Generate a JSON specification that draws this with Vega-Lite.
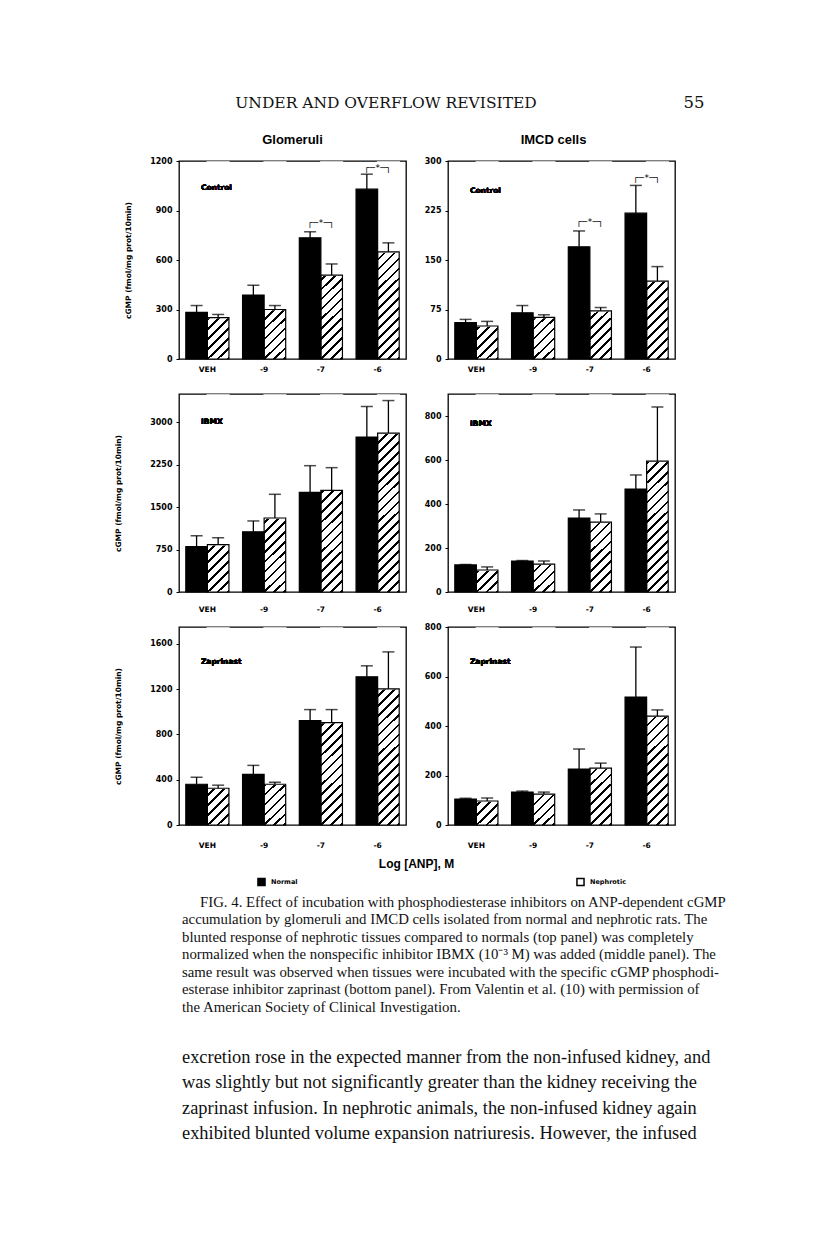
{
  "$schema": "https://vega.github.io/schema/vega-lite/v6.json",
  "autosize": {"type": "pad"},
  "padding": {"left": 114, "top": 80, "right": 5, "bottom": 5},
  "background": "#ffffff",
  "datasets": {
    "glom_control": [
      {"conc": "VEH", "group": "Normal", "mean": 282, "upper": 324},
      {"conc": "VEH", "group": "Nephrotic", "mean": 251, "upper": 270},
      {"conc": "-9", "group": "Normal", "mean": 388, "upper": 447},
      {"conc": "-9", "group": "Nephrotic", "mean": 300, "upper": 324},
      {"conc": "-7", "group": "Normal", "mean": 735, "upper": 771},
      {"conc": "-7", "group": "Nephrotic", "mean": 508, "upper": 576},
      {"conc": "-6", "group": "Normal", "mean": 1029, "upper": 1120},
      {"conc": "-6", "group": "Nephrotic", "mean": 649, "upper": 704}
    ],
    "imcd_control": [
      {"conc": "VEH", "group": "Normal", "mean": 55, "upper": 60},
      {"conc": "VEH", "group": "Nephrotic", "mean": 50, "upper": 57},
      {"conc": "-9", "group": "Normal", "mean": 70, "upper": 81},
      {"conc": "-9", "group": "Nephrotic", "mean": 63, "upper": 67},
      {"conc": "-7", "group": "Normal", "mean": 170, "upper": 194},
      {"conc": "-7", "group": "Nephrotic", "mean": 73, "upper": 78},
      {"conc": "-6", "group": "Normal", "mean": 221, "upper": 263},
      {"conc": "-6", "group": "Nephrotic", "mean": 118, "upper": 140}
    ],
    "glom_ibmx": [
      {"conc": "VEH", "group": "Normal", "mean": 802, "upper": 994},
      {"conc": "VEH", "group": "Nephrotic", "mean": 837, "upper": 959},
      {"conc": "-9", "group": "Normal", "mean": 1064, "upper": 1256},
      {"conc": "-9", "group": "Nephrotic", "mean": 1308, "upper": 1727},
      {"conc": "-7", "group": "Normal", "mean": 1762, "upper": 2233},
      {"conc": "-7", "group": "Nephrotic", "mean": 1797, "upper": 2198},
      {"conc": "-6", "group": "Normal", "mean": 2738, "upper": 3279},
      {"conc": "-6", "group": "Nephrotic", "mean": 2808, "upper": 3384}
    ],
    "imcd_ibmx": [
      {"conc": "VEH", "group": "Normal", "mean": 123, "upper": 125},
      {"conc": "VEH", "group": "Nephrotic", "mean": 100, "upper": 114},
      {"conc": "-9", "group": "Normal", "mean": 141, "upper": 143},
      {"conc": "-9", "group": "Nephrotic", "mean": 127, "upper": 141},
      {"conc": "-7", "group": "Normal", "mean": 336, "upper": 373},
      {"conc": "-7", "group": "Nephrotic", "mean": 318, "upper": 355},
      {"conc": "-6", "group": "Normal", "mean": 468, "upper": 532},
      {"conc": "-6", "group": "Nephrotic", "mean": 595, "upper": 841}
    ],
    "glom_zap": [
      {"conc": "VEH", "group": "Normal", "mean": 360, "upper": 422},
      {"conc": "VEH", "group": "Nephrotic", "mean": 325, "upper": 352},
      {"conc": "-9", "group": "Normal", "mean": 448, "upper": 527},
      {"conc": "-9", "group": "Nephrotic", "mean": 360, "upper": 378},
      {"conc": "-7", "group": "Normal", "mean": 923, "upper": 1020},
      {"conc": "-7", "group": "Nephrotic", "mean": 905, "upper": 1020},
      {"conc": "-6", "group": "Normal", "mean": 1310, "upper": 1407},
      {"conc": "-6", "group": "Nephrotic", "mean": 1204, "upper": 1530}
    ],
    "imcd_zap": [
      {"conc": "VEH", "group": "Normal", "mean": 105, "upper": 108},
      {"conc": "VEH", "group": "Nephrotic", "mean": 97, "upper": 109},
      {"conc": "-9", "group": "Normal", "mean": 133, "upper": 137},
      {"conc": "-9", "group": "Nephrotic", "mean": 125, "upper": 133},
      {"conc": "-7", "group": "Normal", "mean": 226, "upper": 307},
      {"conc": "-7", "group": "Nephrotic", "mean": 230, "upper": 250},
      {"conc": "-6", "group": "Normal", "mean": 517, "upper": 719},
      {"conc": "-6", "group": "Nephrotic", "mean": 440, "upper": 465}
    ],
    "caption": [
      {"line": 1, "text": "FIG. 4. Effect of incubation with phosphodiesterase inhibitors on ANP-dependent cGMP"},
      {"line": 2, "text": "accumulation by glomeruli and IMCD cells isolated from normal and nephrotic rats. The"},
      {"line": 3, "text": "blunted response of nephrotic tissues compared to normals (top panel) was completely"},
      {"line": 4, "text": "normalized when the nonspecific inhibitor IBMX (10\u207b\u00b3 M) was added (middle panel). The"},
      {"line": 5, "text": "same result was observed when tissues were incubated with the specific cGMP phosphodi-"},
      {"line": 6, "text": "esterase inhibitor zaprinast (bottom panel). From Valentin et al. (10) with permission of"},
      {"line": 7, "text": "the American Society of Clinical Investigation."}
    ],
    "body": [
      {"line": 1, "text": "excretion rose in the expected manner from the non-infused kidney, and"},
      {"line": 2, "text": "was slightly but not significantly greater than the kidney receiving the"},
      {"line": 3, "text": "zaprinast infusion. In nephrotic animals, the non-infused kidney again"},
      {"line": 4, "text": "exhibited blunted volume expansion natriuresis. However, the infused"}
    ]
  },
  "columns": 2,
  "spacing": {"row": 35, "column": 42},
  "bounds": "flush",
  "concat": [
    {
      "width": 227, "height": 46,
      "view": {"stroke": null},
      "data": {"values": [{"text": "UNDER AND OVERFLOW REVISITED"}]},
      "mark": {"type": "text", "font": "DejaVu Serif", "fontSize": 15.5, "baseline": "middle", "align": "center", "dx": 93.5, "color": "#111"},
      "encoding": {"text": {"field": "text"}}
    },
    {
      "width": 227, "height": 46,
      "view": {"stroke": null},
      "data": {"values": [{"text": "55"}]},
      "mark": {"type": "text", "font": "DejaVu Serif", "fontSize": 16.5, "baseline": "middle", "align": "center", "dx": 132.5, "color": "#111"},
      "encoding": {"text": {"field": "text"}}
    },
    {
      "width": 227, "height": 198,
      "title": {"text": "Glomeruli", "offset": 10},
      "data": {"name": "glom_control"},
      "encoding": {"x": {"field": "conc", "type": "nominal", "scale": {"domain": ["VEH", "-9", "-7", "-6"], "paddingInner": 0.24, "paddingOuter": 0.12}, "axis": {"title": null, "labelPadding": 6}}},
      "layer": [
        {"transform": [{"filter": "datum.group === 'Nephrotic'"}],
         "mark": {"type": "bar", "stroke": null, "fill": {"gradient": "linear", "x1": 0, "y1": 0, "x2": 0.119, "y2": 1.096, "stops": [{"offset": 0, "color": "#fff"}, {"offset": 0.0327, "color": "#fff"}, {"offset": 0.0327, "color": "#000"}, {"offset": 0.0455, "color": "#000"}, {"offset": 0.0455, "color": "#fff"}, {"offset": 0.0782, "color": "#fff"}, {"offset": 0.0782, "color": "#000"}, {"offset": 0.0909, "color": "#000"}, {"offset": 0.0909, "color": "#fff"}, {"offset": 0.1236, "color": "#fff"}, {"offset": 0.1236, "color": "#000"}, {"offset": 0.1364, "color": "#000"}, {"offset": 0.1364, "color": "#fff"}, {"offset": 0.1691, "color": "#fff"}, {"offset": 0.1691, "color": "#000"}, {"offset": 0.1818, "color": "#000"}, {"offset": 0.1818, "color": "#fff"}, {"offset": 0.2145, "color": "#fff"}, {"offset": 0.2145, "color": "#000"}, {"offset": 0.2273, "color": "#000"}, {"offset": 0.2273, "color": "#fff"}, {"offset": 0.26, "color": "#fff"}, {"offset": 0.26, "color": "#000"}, {"offset": 0.2727, "color": "#000"}, {"offset": 0.2727, "color": "#fff"}, {"offset": 0.3055, "color": "#fff"}, {"offset": 0.3055, "color": "#000"}, {"offset": 0.3182, "color": "#000"}, {"offset": 0.3182, "color": "#fff"}, {"offset": 0.3509, "color": "#fff"}, {"offset": 0.3509, "color": "#000"}, {"offset": 0.3636, "color": "#000"}, {"offset": 0.3636, "color": "#fff"}, {"offset": 0.3964, "color": "#fff"}, {"offset": 0.3964, "color": "#000"}, {"offset": 0.4091, "color": "#000"}, {"offset": 0.4091, "color": "#fff"}, {"offset": 0.4418, "color": "#fff"}, {"offset": 0.4418, "color": "#000"}, {"offset": 0.4545, "color": "#000"}, {"offset": 0.4545, "color": "#fff"}, {"offset": 0.4873, "color": "#fff"}, {"offset": 0.4873, "color": "#000"}, {"offset": 0.5, "color": "#000"}, {"offset": 0.5, "color": "#fff"}, {"offset": 0.5327, "color": "#fff"}, {"offset": 0.5327, "color": "#000"}, {"offset": 0.5455, "color": "#000"}, {"offset": 0.5455, "color": "#fff"}, {"offset": 0.5782, "color": "#fff"}, {"offset": 0.5782, "color": "#000"}, {"offset": 0.5909, "color": "#000"}, {"offset": 0.5909, "color": "#fff"}, {"offset": 0.6236, "color": "#fff"}, {"offset": 0.6236, "color": "#000"}, {"offset": 0.6364, "color": "#000"}, {"offset": 0.6364, "color": "#fff"}, {"offset": 0.6691, "color": "#fff"}, {"offset": 0.6691, "color": "#000"}, {"offset": 0.6818, "color": "#000"}, {"offset": 0.6818, "color": "#fff"}, {"offset": 0.7145, "color": "#fff"}, {"offset": 0.7145, "color": "#000"}, {"offset": 0.7273, "color": "#000"}, {"offset": 0.7273, "color": "#fff"}, {"offset": 0.76, "color": "#fff"}, {"offset": 0.76, "color": "#000"}, {"offset": 0.7727, "color": "#000"}, {"offset": 0.7727, "color": "#fff"}, {"offset": 0.8055, "color": "#fff"}, {"offset": 0.8055, "color": "#000"}, {"offset": 0.8182, "color": "#000"}, {"offset": 0.8182, "color": "#fff"}, {"offset": 0.8509, "color": "#fff"}, {"offset": 0.8509, "color": "#000"}, {"offset": 0.8636, "color": "#000"}, {"offset": 0.8636, "color": "#fff"}, {"offset": 0.8964, "color": "#fff"}, {"offset": 0.8964, "color": "#000"}, {"offset": 0.9091, "color": "#000"}, {"offset": 0.9091, "color": "#fff"}, {"offset": 0.9418, "color": "#fff"}, {"offset": 0.9418, "color": "#000"}, {"offset": 0.9545, "color": "#000"}, {"offset": 0.9545, "color": "#fff"}, {"offset": 0.9873, "color": "#fff"}, {"offset": 0.9873, "color": "#000"}, {"offset": 1, "color": "#000"}]}},
         "encoding": {"xOffset": {"field": "group", "type": "nominal", "scale": {"domain": ["Normal", "Nephrotic"], "paddingInner": 0, "paddingOuter": 0}}, "y": {"datum": 0, "type": "quantitative", "scale": {"domain": [0, 1200], "nice": false}, "axis": {"values": [0, 300, 600, 900, 1200], "title": "cGMP (fmol/mg prot/10min)", "titlePadding": 17}}, "y2": {"datum": 1194}}},
        {"transform": [{"filter": "datum.group === 'Nephrotic'"}], "mark": {"type": "bar", "fill": "#ffffff", "stroke": "#ffffff", "strokeWidth": 1.5},
         "encoding": {"xOffset": {"field": "group", "type": "nominal"}, "y": {"field": "mean", "type": "quantitative"}, "y2": {"datum": 1194}}},
        {"mark": {"type": "bar", "stroke": "#000", "strokeWidth": 1.2},
         "encoding": {"xOffset": {"field": "group", "type": "nominal"}, "y": {"field": "mean", "type": "quantitative"},
          "fill": {"field": "group", "type": "nominal", "title": null, "scale": {"domain": ["Normal", "Nephrotic"], "range": ["#000000", "transparent"]},
            "legend": {"orient": "none", "legendX": 78, "legendY": 797, "direction": "horizontal", "columnPadding": 275, "symbolType": "square", "symbolSize": 50, "symbolStrokeColor": "#000", "symbolStrokeWidth": 1.5, "labelFont": "DejaVu Sans", "labelFontWeight": "bold", "labelFontSize": 6.5, "labelColor": "#000", "labelOffset": 5}}}},
        {"mark": {"type": "rule", "color": "#000", "strokeWidth": 1.3},
         "encoding": {"xOffset": {"field": "group", "type": "nominal"}, "y": {"field": "mean", "type": "quantitative"}, "y2": {"field": "upper"}}},
        {"mark": {"type": "tick", "color": "#000", "size": 12, "thickness": 1.5, "orient": "horizontal"},
         "encoding": {"xOffset": {"field": "group", "type": "nominal"}, "y": {"field": "upper", "type": "quantitative"}}},
        {"mark": {"type": "text", "text": "Control", "align": "left", "baseline": "middle", "font": "DejaVu Sans", "fontWeight": "bold", "fontSize": 7.5, "color": "#000"},
         "encoding": {"x": {"datum": "VEH", "bandPosition": 0.35}, "y": {"datum": 1036, "type": "quantitative"}}},
        {"data": {"values": [{"conc": "-7", "level": 826}, {"conc": "-6", "level": 1157}]},
         "mark": {"type": "text", "text": "┌─*─┐", "font": "DejaVu Sans Mono", "fontSize": 9, "baseline": "middle", "align": "center", "color": "#000"},
         "encoding": {"y": {"field": "level", "type": "quantitative"}}}
      ]
    },
    {
      "width": 227, "height": 198,
      "title": {"text": "IMCD cells", "offset": 10, "dx": -8},
      "data": {"name": "imcd_control"},
      "encoding": {"x": {"field": "conc", "type": "nominal", "scale": {"domain": ["VEH", "-9", "-7", "-6"], "paddingInner": 0.24, "paddingOuter": 0.12}, "axis": {"title": null, "labelPadding": 6}}},
      "layer": [
        {"transform": [{"filter": "datum.group === 'Nephrotic'"}],
         "mark": {"type": "bar", "stroke": null, "fill": {"gradient": "linear", "x1": 0, "y1": 0, "x2": 0.119, "y2": 1.096, "stops": [{"offset": 0, "color": "#fff"}, {"offset": 0.0327, "color": "#fff"}, {"offset": 0.0327, "color": "#000"}, {"offset": 0.0455, "color": "#000"}, {"offset": 0.0455, "color": "#fff"}, {"offset": 0.0782, "color": "#fff"}, {"offset": 0.0782, "color": "#000"}, {"offset": 0.0909, "color": "#000"}, {"offset": 0.0909, "color": "#fff"}, {"offset": 0.1236, "color": "#fff"}, {"offset": 0.1236, "color": "#000"}, {"offset": 0.1364, "color": "#000"}, {"offset": 0.1364, "color": "#fff"}, {"offset": 0.1691, "color": "#fff"}, {"offset": 0.1691, "color": "#000"}, {"offset": 0.1818, "color": "#000"}, {"offset": 0.1818, "color": "#fff"}, {"offset": 0.2145, "color": "#fff"}, {"offset": 0.2145, "color": "#000"}, {"offset": 0.2273, "color": "#000"}, {"offset": 0.2273, "color": "#fff"}, {"offset": 0.26, "color": "#fff"}, {"offset": 0.26, "color": "#000"}, {"offset": 0.2727, "color": "#000"}, {"offset": 0.2727, "color": "#fff"}, {"offset": 0.3055, "color": "#fff"}, {"offset": 0.3055, "color": "#000"}, {"offset": 0.3182, "color": "#000"}, {"offset": 0.3182, "color": "#fff"}, {"offset": 0.3509, "color": "#fff"}, {"offset": 0.3509, "color": "#000"}, {"offset": 0.3636, "color": "#000"}, {"offset": 0.3636, "color": "#fff"}, {"offset": 0.3964, "color": "#fff"}, {"offset": 0.3964, "color": "#000"}, {"offset": 0.4091, "color": "#000"}, {"offset": 0.4091, "color": "#fff"}, {"offset": 0.4418, "color": "#fff"}, {"offset": 0.4418, "color": "#000"}, {"offset": 0.4545, "color": "#000"}, {"offset": 0.4545, "color": "#fff"}, {"offset": 0.4873, "color": "#fff"}, {"offset": 0.4873, "color": "#000"}, {"offset": 0.5, "color": "#000"}, {"offset": 0.5, "color": "#fff"}, {"offset": 0.5327, "color": "#fff"}, {"offset": 0.5327, "color": "#000"}, {"offset": 0.5455, "color": "#000"}, {"offset": 0.5455, "color": "#fff"}, {"offset": 0.5782, "color": "#fff"}, {"offset": 0.5782, "color": "#000"}, {"offset": 0.5909, "color": "#000"}, {"offset": 0.5909, "color": "#fff"}, {"offset": 0.6236, "color": "#fff"}, {"offset": 0.6236, "color": "#000"}, {"offset": 0.6364, "color": "#000"}, {"offset": 0.6364, "color": "#fff"}, {"offset": 0.6691, "color": "#fff"}, {"offset": 0.6691, "color": "#000"}, {"offset": 0.6818, "color": "#000"}, {"offset": 0.6818, "color": "#fff"}, {"offset": 0.7145, "color": "#fff"}, {"offset": 0.7145, "color": "#000"}, {"offset": 0.7273, "color": "#000"}, {"offset": 0.7273, "color": "#fff"}, {"offset": 0.76, "color": "#fff"}, {"offset": 0.76, "color": "#000"}, {"offset": 0.7727, "color": "#000"}, {"offset": 0.7727, "color": "#fff"}, {"offset": 0.8055, "color": "#fff"}, {"offset": 0.8055, "color": "#000"}, {"offset": 0.8182, "color": "#000"}, {"offset": 0.8182, "color": "#fff"}, {"offset": 0.8509, "color": "#fff"}, {"offset": 0.8509, "color": "#000"}, {"offset": 0.8636, "color": "#000"}, {"offset": 0.8636, "color": "#fff"}, {"offset": 0.8964, "color": "#fff"}, {"offset": 0.8964, "color": "#000"}, {"offset": 0.9091, "color": "#000"}, {"offset": 0.9091, "color": "#fff"}, {"offset": 0.9418, "color": "#fff"}, {"offset": 0.9418, "color": "#000"}, {"offset": 0.9545, "color": "#000"}, {"offset": 0.9545, "color": "#fff"}, {"offset": 0.9873, "color": "#fff"}, {"offset": 0.9873, "color": "#000"}, {"offset": 1, "color": "#000"}]}},
         "encoding": {"xOffset": {"field": "group", "type": "nominal", "scale": {"domain": ["Normal", "Nephrotic"], "paddingInner": 0, "paddingOuter": 0}}, "y": {"datum": 0, "type": "quantitative", "scale": {"domain": [0, 300], "nice": false}, "axis": {"values": [0, 75, 150, 225, 300], "title": null}}, "y2": {"datum": 298.5}}},
        {"transform": [{"filter": "datum.group === 'Nephrotic'"}], "mark": {"type": "bar", "fill": "#ffffff", "stroke": "#ffffff", "strokeWidth": 1.5},
         "encoding": {"xOffset": {"field": "group", "type": "nominal"}, "y": {"field": "mean", "type": "quantitative"}, "y2": {"datum": 298.5}}},
        {"mark": {"type": "bar", "stroke": "#000", "strokeWidth": 1.2},
         "encoding": {"xOffset": {"field": "group", "type": "nominal"}, "y": {"field": "mean", "type": "quantitative"},
          "fill": {"field": "group", "type": "nominal", "title": null, "scale": {"domain": ["Normal", "Nephrotic"], "range": ["#000000", "transparent"]}, "legend": null}}},
        {"mark": {"type": "rule", "color": "#000", "strokeWidth": 1.3},
         "encoding": {"xOffset": {"field": "group", "type": "nominal"}, "y": {"field": "mean", "type": "quantitative"}, "y2": {"field": "upper"}}},
        {"mark": {"type": "tick", "color": "#000", "size": 12, "thickness": 1.5, "orient": "horizontal"},
         "encoding": {"xOffset": {"field": "group", "type": "nominal"}, "y": {"field": "upper", "type": "quantitative"}}},
        {"mark": {"type": "text", "text": "Control", "align": "left", "baseline": "middle", "font": "DejaVu Sans", "fontWeight": "bold", "fontSize": 7.5, "color": "#000"},
         "encoding": {"x": {"datum": "VEH", "bandPosition": 0.35}, "y": {"datum": 254.5, "type": "quantitative"}}},
        {"data": {"values": [{"conc": "-7", "level": 208}, {"conc": "-6", "level": 274}]},
         "mark": {"type": "text", "text": "┌─*─┐", "font": "DejaVu Sans Mono", "fontSize": 9, "baseline": "middle", "align": "center", "color": "#000"},
         "encoding": {"y": {"field": "level", "type": "quantitative"}}}
      ]
    },
    {
      "width": 227, "height": 198,
      "data": {"name": "glom_ibmx"},
      "encoding": {"x": {"field": "conc", "type": "nominal", "scale": {"domain": ["VEH", "-9", "-7", "-6"], "paddingInner": 0.24, "paddingOuter": 0.12}, "axis": {"title": null, "labelPadding": 13}}},
      "layer": [
        {"transform": [{"filter": "datum.group === 'Nephrotic'"}],
         "mark": {"type": "bar", "stroke": null, "fill": {"gradient": "linear", "x1": 0, "y1": 0, "x2": 0.119, "y2": 1.096, "stops": [{"offset": 0, "color": "#fff"}, {"offset": 0.0327, "color": "#fff"}, {"offset": 0.0327, "color": "#000"}, {"offset": 0.0455, "color": "#000"}, {"offset": 0.0455, "color": "#fff"}, {"offset": 0.0782, "color": "#fff"}, {"offset": 0.0782, "color": "#000"}, {"offset": 0.0909, "color": "#000"}, {"offset": 0.0909, "color": "#fff"}, {"offset": 0.1236, "color": "#fff"}, {"offset": 0.1236, "color": "#000"}, {"offset": 0.1364, "color": "#000"}, {"offset": 0.1364, "color": "#fff"}, {"offset": 0.1691, "color": "#fff"}, {"offset": 0.1691, "color": "#000"}, {"offset": 0.1818, "color": "#000"}, {"offset": 0.1818, "color": "#fff"}, {"offset": 0.2145, "color": "#fff"}, {"offset": 0.2145, "color": "#000"}, {"offset": 0.2273, "color": "#000"}, {"offset": 0.2273, "color": "#fff"}, {"offset": 0.26, "color": "#fff"}, {"offset": 0.26, "color": "#000"}, {"offset": 0.2727, "color": "#000"}, {"offset": 0.2727, "color": "#fff"}, {"offset": 0.3055, "color": "#fff"}, {"offset": 0.3055, "color": "#000"}, {"offset": 0.3182, "color": "#000"}, {"offset": 0.3182, "color": "#fff"}, {"offset": 0.3509, "color": "#fff"}, {"offset": 0.3509, "color": "#000"}, {"offset": 0.3636, "color": "#000"}, {"offset": 0.3636, "color": "#fff"}, {"offset": 0.3964, "color": "#fff"}, {"offset": 0.3964, "color": "#000"}, {"offset": 0.4091, "color": "#000"}, {"offset": 0.4091, "color": "#fff"}, {"offset": 0.4418, "color": "#fff"}, {"offset": 0.4418, "color": "#000"}, {"offset": 0.4545, "color": "#000"}, {"offset": 0.4545, "color": "#fff"}, {"offset": 0.4873, "color": "#fff"}, {"offset": 0.4873, "color": "#000"}, {"offset": 0.5, "color": "#000"}, {"offset": 0.5, "color": "#fff"}, {"offset": 0.5327, "color": "#fff"}, {"offset": 0.5327, "color": "#000"}, {"offset": 0.5455, "color": "#000"}, {"offset": 0.5455, "color": "#fff"}, {"offset": 0.5782, "color": "#fff"}, {"offset": 0.5782, "color": "#000"}, {"offset": 0.5909, "color": "#000"}, {"offset": 0.5909, "color": "#fff"}, {"offset": 0.6236, "color": "#fff"}, {"offset": 0.6236, "color": "#000"}, {"offset": 0.6364, "color": "#000"}, {"offset": 0.6364, "color": "#fff"}, {"offset": 0.6691, "color": "#fff"}, {"offset": 0.6691, "color": "#000"}, {"offset": 0.6818, "color": "#000"}, {"offset": 0.6818, "color": "#fff"}, {"offset": 0.7145, "color": "#fff"}, {"offset": 0.7145, "color": "#000"}, {"offset": 0.7273, "color": "#000"}, {"offset": 0.7273, "color": "#fff"}, {"offset": 0.76, "color": "#fff"}, {"offset": 0.76, "color": "#000"}, {"offset": 0.7727, "color": "#000"}, {"offset": 0.7727, "color": "#fff"}, {"offset": 0.8055, "color": "#fff"}, {"offset": 0.8055, "color": "#000"}, {"offset": 0.8182, "color": "#000"}, {"offset": 0.8182, "color": "#fff"}, {"offset": 0.8509, "color": "#fff"}, {"offset": 0.8509, "color": "#000"}, {"offset": 0.8636, "color": "#000"}, {"offset": 0.8636, "color": "#fff"}, {"offset": 0.8964, "color": "#fff"}, {"offset": 0.8964, "color": "#000"}, {"offset": 0.9091, "color": "#000"}, {"offset": 0.9091, "color": "#fff"}, {"offset": 0.9418, "color": "#fff"}, {"offset": 0.9418, "color": "#000"}, {"offset": 0.9545, "color": "#000"}, {"offset": 0.9545, "color": "#fff"}, {"offset": 0.9873, "color": "#fff"}, {"offset": 0.9873, "color": "#000"}, {"offset": 1, "color": "#000"}]}},
         "encoding": {"xOffset": {"field": "group", "type": "nominal", "scale": {"domain": ["Normal", "Nephrotic"], "paddingInner": 0, "paddingOuter": 0}}, "y": {"datum": 0, "type": "quantitative", "scale": {"domain": [0, 3500], "nice": false}, "axis": {"values": [0, 750, 1500, 2250, 3000], "title": "cGMP (fmol/mg prot/10min)", "titlePadding": 27}}, "y2": {"datum": 3482}}},
        {"transform": [{"filter": "datum.group === 'Nephrotic'"}], "mark": {"type": "bar", "fill": "#ffffff", "stroke": "#ffffff", "strokeWidth": 1.5},
         "encoding": {"xOffset": {"field": "group", "type": "nominal"}, "y": {"field": "mean", "type": "quantitative"}, "y2": {"datum": 3482}}},
        {"mark": {"type": "bar", "stroke": "#000", "strokeWidth": 1.2},
         "encoding": {"xOffset": {"field": "group", "type": "nominal"}, "y": {"field": "mean", "type": "quantitative"},
          "fill": {"field": "group", "type": "nominal", "title": null, "scale": {"domain": ["Normal", "Nephrotic"], "range": ["#000000", "transparent"]}, "legend": null}}},
        {"mark": {"type": "rule", "color": "#000", "strokeWidth": 1.3},
         "encoding": {"xOffset": {"field": "group", "type": "nominal"}, "y": {"field": "mean", "type": "quantitative"}, "y2": {"field": "upper"}}},
        {"mark": {"type": "tick", "color": "#000", "size": 12, "thickness": 1.5, "orient": "horizontal"},
         "encoding": {"xOffset": {"field": "group", "type": "nominal"}, "y": {"field": "upper", "type": "quantitative"}}},
        {"mark": {"type": "text", "text": "IBMX", "align": "left", "baseline": "middle", "font": "DejaVu Sans", "fontWeight": "bold", "fontSize": 7.5, "color": "#000"},
         "encoding": {"x": {"datum": "VEH", "bandPosition": 0.35}, "y": {"datum": 3005, "type": "quantitative"}}}
      ]
    },
    {
      "width": 227, "height": 198,
      "data": {"name": "imcd_ibmx"},
      "encoding": {"x": {"field": "conc", "type": "nominal", "scale": {"domain": ["VEH", "-9", "-7", "-6"], "paddingInner": 0.24, "paddingOuter": 0.12}, "axis": {"title": null, "labelPadding": 13}}},
      "layer": [
        {"transform": [{"filter": "datum.group === 'Nephrotic'"}],
         "mark": {"type": "bar", "stroke": null, "fill": {"gradient": "linear", "x1": 0, "y1": 0, "x2": 0.119, "y2": 1.096, "stops": [{"offset": 0, "color": "#fff"}, {"offset": 0.0327, "color": "#fff"}, {"offset": 0.0327, "color": "#000"}, {"offset": 0.0455, "color": "#000"}, {"offset": 0.0455, "color": "#fff"}, {"offset": 0.0782, "color": "#fff"}, {"offset": 0.0782, "color": "#000"}, {"offset": 0.0909, "color": "#000"}, {"offset": 0.0909, "color": "#fff"}, {"offset": 0.1236, "color": "#fff"}, {"offset": 0.1236, "color": "#000"}, {"offset": 0.1364, "color": "#000"}, {"offset": 0.1364, "color": "#fff"}, {"offset": 0.1691, "color": "#fff"}, {"offset": 0.1691, "color": "#000"}, {"offset": 0.1818, "color": "#000"}, {"offset": 0.1818, "color": "#fff"}, {"offset": 0.2145, "color": "#fff"}, {"offset": 0.2145, "color": "#000"}, {"offset": 0.2273, "color": "#000"}, {"offset": 0.2273, "color": "#fff"}, {"offset": 0.26, "color": "#fff"}, {"offset": 0.26, "color": "#000"}, {"offset": 0.2727, "color": "#000"}, {"offset": 0.2727, "color": "#fff"}, {"offset": 0.3055, "color": "#fff"}, {"offset": 0.3055, "color": "#000"}, {"offset": 0.3182, "color": "#000"}, {"offset": 0.3182, "color": "#fff"}, {"offset": 0.3509, "color": "#fff"}, {"offset": 0.3509, "color": "#000"}, {"offset": 0.3636, "color": "#000"}, {"offset": 0.3636, "color": "#fff"}, {"offset": 0.3964, "color": "#fff"}, {"offset": 0.3964, "color": "#000"}, {"offset": 0.4091, "color": "#000"}, {"offset": 0.4091, "color": "#fff"}, {"offset": 0.4418, "color": "#fff"}, {"offset": 0.4418, "color": "#000"}, {"offset": 0.4545, "color": "#000"}, {"offset": 0.4545, "color": "#fff"}, {"offset": 0.4873, "color": "#fff"}, {"offset": 0.4873, "color": "#000"}, {"offset": 0.5, "color": "#000"}, {"offset": 0.5, "color": "#fff"}, {"offset": 0.5327, "color": "#fff"}, {"offset": 0.5327, "color": "#000"}, {"offset": 0.5455, "color": "#000"}, {"offset": 0.5455, "color": "#fff"}, {"offset": 0.5782, "color": "#fff"}, {"offset": 0.5782, "color": "#000"}, {"offset": 0.5909, "color": "#000"}, {"offset": 0.5909, "color": "#fff"}, {"offset": 0.6236, "color": "#fff"}, {"offset": 0.6236, "color": "#000"}, {"offset": 0.6364, "color": "#000"}, {"offset": 0.6364, "color": "#fff"}, {"offset": 0.6691, "color": "#fff"}, {"offset": 0.6691, "color": "#000"}, {"offset": 0.6818, "color": "#000"}, {"offset": 0.6818, "color": "#fff"}, {"offset": 0.7145, "color": "#fff"}, {"offset": 0.7145, "color": "#000"}, {"offset": 0.7273, "color": "#000"}, {"offset": 0.7273, "color": "#fff"}, {"offset": 0.76, "color": "#fff"}, {"offset": 0.76, "color": "#000"}, {"offset": 0.7727, "color": "#000"}, {"offset": 0.7727, "color": "#fff"}, {"offset": 0.8055, "color": "#fff"}, {"offset": 0.8055, "color": "#000"}, {"offset": 0.8182, "color": "#000"}, {"offset": 0.8182, "color": "#fff"}, {"offset": 0.8509, "color": "#fff"}, {"offset": 0.8509, "color": "#000"}, {"offset": 0.8636, "color": "#000"}, {"offset": 0.8636, "color": "#fff"}, {"offset": 0.8964, "color": "#fff"}, {"offset": 0.8964, "color": "#000"}, {"offset": 0.9091, "color": "#000"}, {"offset": 0.9091, "color": "#fff"}, {"offset": 0.9418, "color": "#fff"}, {"offset": 0.9418, "color": "#000"}, {"offset": 0.9545, "color": "#000"}, {"offset": 0.9545, "color": "#fff"}, {"offset": 0.9873, "color": "#fff"}, {"offset": 0.9873, "color": "#000"}, {"offset": 1, "color": "#000"}]}},
         "encoding": {"xOffset": {"field": "group", "type": "nominal", "scale": {"domain": ["Normal", "Nephrotic"], "paddingInner": 0, "paddingOuter": 0}}, "y": {"datum": 0, "type": "quantitative", "scale": {"domain": [0, 900], "nice": false}, "axis": {"values": [0, 200, 400, 600, 800], "title": null}}, "y2": {"datum": 895.5}}},
        {"transform": [{"filter": "datum.group === 'Nephrotic'"}], "mark": {"type": "bar", "fill": "#ffffff", "stroke": "#ffffff", "strokeWidth": 1.5},
         "encoding": {"xOffset": {"field": "group", "type": "nominal"}, "y": {"field": "mean", "type": "quantitative"}, "y2": {"datum": 895.5}}},
        {"mark": {"type": "bar", "stroke": "#000", "strokeWidth": 1.2},
         "encoding": {"xOffset": {"field": "group", "type": "nominal"}, "y": {"field": "mean", "type": "quantitative"},
          "fill": {"field": "group", "type": "nominal", "title": null, "scale": {"domain": ["Normal", "Nephrotic"], "range": ["#000000", "transparent"]}, "legend": null}}},
        {"mark": {"type": "rule", "color": "#000", "strokeWidth": 1.3},
         "encoding": {"xOffset": {"field": "group", "type": "nominal"}, "y": {"field": "mean", "type": "quantitative"}, "y2": {"field": "upper"}}},
        {"mark": {"type": "tick", "color": "#000", "size": 12, "thickness": 1.5, "orient": "horizontal"},
         "encoding": {"xOffset": {"field": "group", "type": "nominal"}, "y": {"field": "upper", "type": "quantitative"}}},
        {"mark": {"type": "text", "text": "IBMX", "align": "left", "baseline": "middle", "font": "DejaVu Sans", "fontWeight": "bold", "fontSize": 7.5, "color": "#000"},
         "encoding": {"x": {"datum": "VEH", "bandPosition": 0.35}, "y": {"datum": 764, "type": "quantitative"}}}
      ]
    },
    {
      "width": 227, "height": 198,
      "data": {"name": "glom_zap"},
      "encoding": {"x": {"field": "conc", "type": "nominal", "scale": {"domain": ["VEH", "-9", "-7", "-6"], "paddingInner": 0.24, "paddingOuter": 0.12}, "axis": {"title": "Log [ANP], M", "labelPadding": 16, "titleX": 237, "titleY": 38, "titleAlign": "center", "titleBaseline": "middle", "titleFont": "Liberation Sans", "titleFontWeight": "bold", "titleFontSize": 12}}},
      "layer": [
        {"transform": [{"filter": "datum.group === 'Nephrotic'"}],
         "mark": {"type": "bar", "stroke": null, "fill": {"gradient": "linear", "x1": 0, "y1": 0, "x2": 0.119, "y2": 1.096, "stops": [{"offset": 0, "color": "#fff"}, {"offset": 0.0327, "color": "#fff"}, {"offset": 0.0327, "color": "#000"}, {"offset": 0.0455, "color": "#000"}, {"offset": 0.0455, "color": "#fff"}, {"offset": 0.0782, "color": "#fff"}, {"offset": 0.0782, "color": "#000"}, {"offset": 0.0909, "color": "#000"}, {"offset": 0.0909, "color": "#fff"}, {"offset": 0.1236, "color": "#fff"}, {"offset": 0.1236, "color": "#000"}, {"offset": 0.1364, "color": "#000"}, {"offset": 0.1364, "color": "#fff"}, {"offset": 0.1691, "color": "#fff"}, {"offset": 0.1691, "color": "#000"}, {"offset": 0.1818, "color": "#000"}, {"offset": 0.1818, "color": "#fff"}, {"offset": 0.2145, "color": "#fff"}, {"offset": 0.2145, "color": "#000"}, {"offset": 0.2273, "color": "#000"}, {"offset": 0.2273, "color": "#fff"}, {"offset": 0.26, "color": "#fff"}, {"offset": 0.26, "color": "#000"}, {"offset": 0.2727, "color": "#000"}, {"offset": 0.2727, "color": "#fff"}, {"offset": 0.3055, "color": "#fff"}, {"offset": 0.3055, "color": "#000"}, {"offset": 0.3182, "color": "#000"}, {"offset": 0.3182, "color": "#fff"}, {"offset": 0.3509, "color": "#fff"}, {"offset": 0.3509, "color": "#000"}, {"offset": 0.3636, "color": "#000"}, {"offset": 0.3636, "color": "#fff"}, {"offset": 0.3964, "color": "#fff"}, {"offset": 0.3964, "color": "#000"}, {"offset": 0.4091, "color": "#000"}, {"offset": 0.4091, "color": "#fff"}, {"offset": 0.4418, "color": "#fff"}, {"offset": 0.4418, "color": "#000"}, {"offset": 0.4545, "color": "#000"}, {"offset": 0.4545, "color": "#fff"}, {"offset": 0.4873, "color": "#fff"}, {"offset": 0.4873, "color": "#000"}, {"offset": 0.5, "color": "#000"}, {"offset": 0.5, "color": "#fff"}, {"offset": 0.5327, "color": "#fff"}, {"offset": 0.5327, "color": "#000"}, {"offset": 0.5455, "color": "#000"}, {"offset": 0.5455, "color": "#fff"}, {"offset": 0.5782, "color": "#fff"}, {"offset": 0.5782, "color": "#000"}, {"offset": 0.5909, "color": "#000"}, {"offset": 0.5909, "color": "#fff"}, {"offset": 0.6236, "color": "#fff"}, {"offset": 0.6236, "color": "#000"}, {"offset": 0.6364, "color": "#000"}, {"offset": 0.6364, "color": "#fff"}, {"offset": 0.6691, "color": "#fff"}, {"offset": 0.6691, "color": "#000"}, {"offset": 0.6818, "color": "#000"}, {"offset": 0.6818, "color": "#fff"}, {"offset": 0.7145, "color": "#fff"}, {"offset": 0.7145, "color": "#000"}, {"offset": 0.7273, "color": "#000"}, {"offset": 0.7273, "color": "#fff"}, {"offset": 0.76, "color": "#fff"}, {"offset": 0.76, "color": "#000"}, {"offset": 0.7727, "color": "#000"}, {"offset": 0.7727, "color": "#fff"}, {"offset": 0.8055, "color": "#fff"}, {"offset": 0.8055, "color": "#000"}, {"offset": 0.8182, "color": "#000"}, {"offset": 0.8182, "color": "#fff"}, {"offset": 0.8509, "color": "#fff"}, {"offset": 0.8509, "color": "#000"}, {"offset": 0.8636, "color": "#000"}, {"offset": 0.8636, "color": "#fff"}, {"offset": 0.8964, "color": "#fff"}, {"offset": 0.8964, "color": "#000"}, {"offset": 0.9091, "color": "#000"}, {"offset": 0.9091, "color": "#fff"}, {"offset": 0.9418, "color": "#fff"}, {"offset": 0.9418, "color": "#000"}, {"offset": 0.9545, "color": "#000"}, {"offset": 0.9545, "color": "#fff"}, {"offset": 0.9873, "color": "#fff"}, {"offset": 0.9873, "color": "#000"}, {"offset": 1, "color": "#000"}]}},
         "encoding": {"xOffset": {"field": "group", "type": "nominal", "scale": {"domain": ["Normal", "Nephrotic"], "paddingInner": 0, "paddingOuter": 0}}, "y": {"datum": 0, "type": "quantitative", "scale": {"domain": [0, 1750], "nice": false}, "axis": {"values": [0, 400, 800, 1200, 1600], "title": "cGMP (fmol/mg prot/10min)", "titlePadding": 27}}, "y2": {"datum": 1741}}},
        {"transform": [{"filter": "datum.group === 'Nephrotic'"}], "mark": {"type": "bar", "fill": "#ffffff", "stroke": "#ffffff", "strokeWidth": 1.5},
         "encoding": {"xOffset": {"field": "group", "type": "nominal"}, "y": {"field": "mean", "type": "quantitative"}, "y2": {"datum": 1741}}},
        {"mark": {"type": "bar", "stroke": "#000", "strokeWidth": 1.2},
         "encoding": {"xOffset": {"field": "group", "type": "nominal"}, "y": {"field": "mean", "type": "quantitative"},
          "fill": {"field": "group", "type": "nominal", "title": null, "scale": {"domain": ["Normal", "Nephrotic"], "range": ["#000000", "transparent"]}, "legend": null}}},
        {"mark": {"type": "rule", "color": "#000", "strokeWidth": 1.3},
         "encoding": {"xOffset": {"field": "group", "type": "nominal"}, "y": {"field": "mean", "type": "quantitative"}, "y2": {"field": "upper"}}},
        {"mark": {"type": "tick", "color": "#000", "size": 12, "thickness": 1.5, "orient": "horizontal"},
         "encoding": {"xOffset": {"field": "group", "type": "nominal"}, "y": {"field": "upper", "type": "quantitative"}}},
        {"mark": {"type": "text", "text": "Zaprinast", "align": "left", "baseline": "middle", "font": "DejaVu Sans", "fontWeight": "bold", "fontSize": 7.5, "color": "#000"},
         "encoding": {"x": {"datum": "VEH", "bandPosition": 0.35}, "y": {"datum": 1441, "type": "quantitative"}}}
      ]
    },
    {
      "width": 227, "height": 198,
      "data": {"name": "imcd_zap"},
      "encoding": {"x": {"field": "conc", "type": "nominal", "scale": {"domain": ["VEH", "-9", "-7", "-6"], "paddingInner": 0.24, "paddingOuter": 0.12}, "axis": {"title": null, "labelPadding": 16}}},
      "layer": [
        {"transform": [{"filter": "datum.group === 'Nephrotic'"}],
         "mark": {"type": "bar", "stroke": null, "fill": {"gradient": "linear", "x1": 0, "y1": 0, "x2": 0.119, "y2": 1.096, "stops": [{"offset": 0, "color": "#fff"}, {"offset": 0.0327, "color": "#fff"}, {"offset": 0.0327, "color": "#000"}, {"offset": 0.0455, "color": "#000"}, {"offset": 0.0455, "color": "#fff"}, {"offset": 0.0782, "color": "#fff"}, {"offset": 0.0782, "color": "#000"}, {"offset": 0.0909, "color": "#000"}, {"offset": 0.0909, "color": "#fff"}, {"offset": 0.1236, "color": "#fff"}, {"offset": 0.1236, "color": "#000"}, {"offset": 0.1364, "color": "#000"}, {"offset": 0.1364, "color": "#fff"}, {"offset": 0.1691, "color": "#fff"}, {"offset": 0.1691, "color": "#000"}, {"offset": 0.1818, "color": "#000"}, {"offset": 0.1818, "color": "#fff"}, {"offset": 0.2145, "color": "#fff"}, {"offset": 0.2145, "color": "#000"}, {"offset": 0.2273, "color": "#000"}, {"offset": 0.2273, "color": "#fff"}, {"offset": 0.26, "color": "#fff"}, {"offset": 0.26, "color": "#000"}, {"offset": 0.2727, "color": "#000"}, {"offset": 0.2727, "color": "#fff"}, {"offset": 0.3055, "color": "#fff"}, {"offset": 0.3055, "color": "#000"}, {"offset": 0.3182, "color": "#000"}, {"offset": 0.3182, "color": "#fff"}, {"offset": 0.3509, "color": "#fff"}, {"offset": 0.3509, "color": "#000"}, {"offset": 0.3636, "color": "#000"}, {"offset": 0.3636, "color": "#fff"}, {"offset": 0.3964, "color": "#fff"}, {"offset": 0.3964, "color": "#000"}, {"offset": 0.4091, "color": "#000"}, {"offset": 0.4091, "color": "#fff"}, {"offset": 0.4418, "color": "#fff"}, {"offset": 0.4418, "color": "#000"}, {"offset": 0.4545, "color": "#000"}, {"offset": 0.4545, "color": "#fff"}, {"offset": 0.4873, "color": "#fff"}, {"offset": 0.4873, "color": "#000"}, {"offset": 0.5, "color": "#000"}, {"offset": 0.5, "color": "#fff"}, {"offset": 0.5327, "color": "#fff"}, {"offset": 0.5327, "color": "#000"}, {"offset": 0.5455, "color": "#000"}, {"offset": 0.5455, "color": "#fff"}, {"offset": 0.5782, "color": "#fff"}, {"offset": 0.5782, "color": "#000"}, {"offset": 0.5909, "color": "#000"}, {"offset": 0.5909, "color": "#fff"}, {"offset": 0.6236, "color": "#fff"}, {"offset": 0.6236, "color": "#000"}, {"offset": 0.6364, "color": "#000"}, {"offset": 0.6364, "color": "#fff"}, {"offset": 0.6691, "color": "#fff"}, {"offset": 0.6691, "color": "#000"}, {"offset": 0.6818, "color": "#000"}, {"offset": 0.6818, "color": "#fff"}, {"offset": 0.7145, "color": "#fff"}, {"offset": 0.7145, "color": "#000"}, {"offset": 0.7273, "color": "#000"}, {"offset": 0.7273, "color": "#fff"}, {"offset": 0.76, "color": "#fff"}, {"offset": 0.76, "color": "#000"}, {"offset": 0.7727, "color": "#000"}, {"offset": 0.7727, "color": "#fff"}, {"offset": 0.8055, "color": "#fff"}, {"offset": 0.8055, "color": "#000"}, {"offset": 0.8182, "color": "#000"}, {"offset": 0.8182, "color": "#fff"}, {"offset": 0.8509, "color": "#fff"}, {"offset": 0.8509, "color": "#000"}, {"offset": 0.8636, "color": "#000"}, {"offset": 0.8636, "color": "#fff"}, {"offset": 0.8964, "color": "#fff"}, {"offset": 0.8964, "color": "#000"}, {"offset": 0.9091, "color": "#000"}, {"offset": 0.9091, "color": "#fff"}, {"offset": 0.9418, "color": "#fff"}, {"offset": 0.9418, "color": "#000"}, {"offset": 0.9545, "color": "#000"}, {"offset": 0.9545, "color": "#fff"}, {"offset": 0.9873, "color": "#fff"}, {"offset": 0.9873, "color": "#000"}, {"offset": 1, "color": "#000"}]}},
         "encoding": {"xOffset": {"field": "group", "type": "nominal", "scale": {"domain": ["Normal", "Nephrotic"], "paddingInner": 0, "paddingOuter": 0}}, "y": {"datum": 0, "type": "quantitative", "scale": {"domain": [0, 800], "nice": false}, "axis": {"values": [0, 200, 400, 600, 800], "title": null}}, "y2": {"datum": 796}}},
        {"transform": [{"filter": "datum.group === 'Nephrotic'"}], "mark": {"type": "bar", "fill": "#ffffff", "stroke": "#ffffff", "strokeWidth": 1.5},
         "encoding": {"xOffset": {"field": "group", "type": "nominal"}, "y": {"field": "mean", "type": "quantitative"}, "y2": {"datum": 796}}},
        {"mark": {"type": "bar", "stroke": "#000", "strokeWidth": 1.2},
         "encoding": {"xOffset": {"field": "group", "type": "nominal"}, "y": {"field": "mean", "type": "quantitative"},
          "fill": {"field": "group", "type": "nominal", "title": null, "scale": {"domain": ["Normal", "Nephrotic"], "range": ["#000000", "transparent"]}, "legend": null}}},
        {"mark": {"type": "rule", "color": "#000", "strokeWidth": 1.3},
         "encoding": {"xOffset": {"field": "group", "type": "nominal"}, "y": {"field": "mean", "type": "quantitative"}, "y2": {"field": "upper"}}},
        {"mark": {"type": "tick", "color": "#000", "size": 12, "thickness": 1.5, "orient": "horizontal"},
         "encoding": {"xOffset": {"field": "group", "type": "nominal"}, "y": {"field": "upper", "type": "quantitative"}}},
        {"mark": {"type": "text", "text": "Zaprinast", "align": "left", "baseline": "middle", "font": "DejaVu Sans", "fontWeight": "bold", "fontSize": 7.5, "color": "#000"},
         "encoding": {"x": {"datum": "VEH", "bandPosition": 0.35}, "y": {"datum": 659, "type": "quantitative"}}}
      ]
    },
    {
      "width": 227, "height": 286,
      "view": {"stroke": null},
      "resolve": {"scale": {"y": "independent"}},
      "layer": [
        {
          "data": {"name": "caption"},
          "transform": [{"filter": "datum.line === 1"}],
          "mark": {"type": "text", "align": "left", "baseline": "middle", "font": "Liberation Serif", "fontSize": 14.8, "color": "#111", "dx": 21},
          "encoding": {
            "y": {"field": "line", "type": "quantitative", "axis": null, "scale": {"domain": [-1.457, 14.886], "reverse": true, "nice": false, "zero": false}},
            "x": {"datum": 0, "type": "quantitative", "scale": {"domain": [0, 1]}, "axis": null},
            "text": {"field": "text"}
          }
        },
        {
          "data": {"name": "caption"},
          "transform": [{"filter": "datum.line > 1"}],
          "mark": {"type": "text", "align": "left", "baseline": "middle", "font": "Liberation Serif", "fontSize": 14.8, "color": "#111", "dx": 3},
          "encoding": {
            "y": {"field": "line", "type": "quantitative", "axis": null, "scale": {"domain": [-1.457, 14.886], "reverse": true, "nice": false, "zero": false}},
            "x": {"datum": 0, "type": "quantitative", "scale": {"domain": [0, 1]}, "axis": null},
            "text": {"field": "text"}
          }
        },
        {
          "data": {"name": "body"},
          "mark": {"type": "text", "align": "left", "baseline": "middle", "font": "Liberation Serif", "fontSize": 18.4, "color": "#111", "dx": 3},
          "encoding": {
            "y": {"field": "line", "type": "quantitative", "axis": null, "scale": {"domain": [-6.787, 4.518], "reverse": true, "nice": false, "zero": false}},
            "x": {"datum": 0, "type": "quantitative", "scale": {"domain": [0, 1]}, "axis": null},
            "text": {"field": "text"}
          }
        }
      ]
    }
  ],
  "config": {
    "numberFormat": "d",
    "view": {"stroke": "#000", "strokeWidth": 1.3},
    "font": "DejaVu Sans",
    "axis": {"grid": false, "domain": false, "labelFont": "DejaVu Sans", "labelFontWeight": "bold", "labelFontSize": 8, "labelColor": "#000", "tickColor": "#000", "tickSize": 3, "tickWidth": 1, "labelPadding": 4, "titleFont": "DejaVu Sans", "titleFontWeight": "bold", "titleFontSize": 7.5, "titleColor": "#000"},
    "axisX": {"ticks": false, "labelFontSize": 7.5, "labelAngle": 0},
    "title": {"font": "Liberation Sans", "fontWeight": "bold", "fontSize": 13, "color": "#000"}
  }
}
